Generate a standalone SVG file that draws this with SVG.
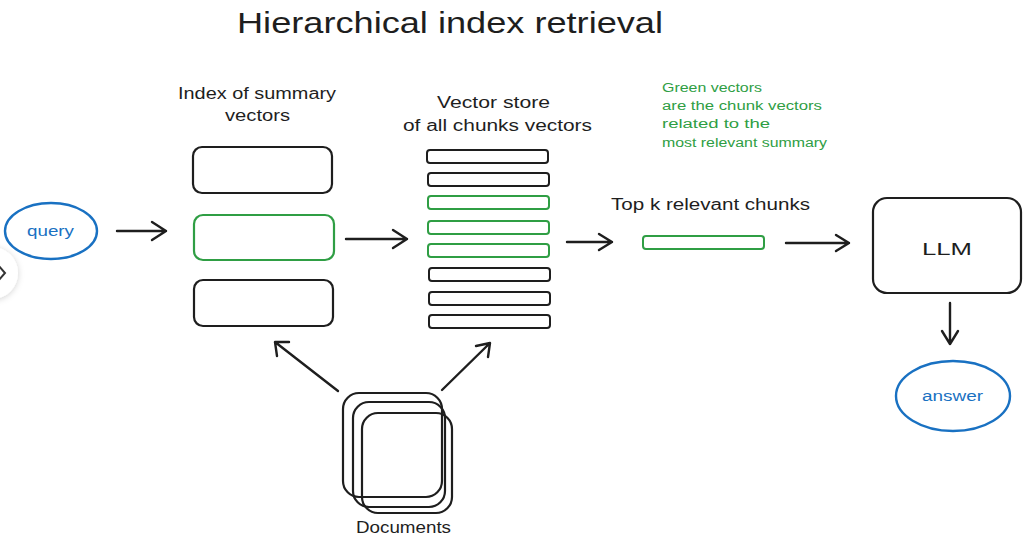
<svg xmlns="http://www.w3.org/2000/svg" width="1024" height="548" viewBox="0 0 1024 548">
<defs>
<style>
text{font-family:"Liberation Sans","DejaVu Sans",sans-serif;fill:#1e1e1e}
.blk{fill:none;stroke:#1e1e1e;stroke-width:2.2}
.grn{fill:none;stroke:#2f9e44;stroke-width:2.2}
.blu{fill:none;stroke:#1971c2;stroke-width:2.4}
.bar{fill:none;stroke:#1e1e1e;stroke-width:2}
.gbar{fill:none;stroke:#2f9e44;stroke-width:2}
.con{fill:none;stroke:#1e1e1e;stroke-width:2.4;stroke-linecap:round;stroke-linejoin:round}
.lbl{font-size:16px}
.gtxt{font-size:12.5px;fill:#2f9e44}
</style>
<filter id="sh" x="-50%" y="-50%" width="200%" height="200%"><feDropShadow dx="0" dy="1" stdDeviation="3" flood-opacity="0.18"/></filter>
</defs>
<rect width="1024" height="548" fill="#ffffff"/>

<text x="237" y="33" font-size="29" textLength="426" lengthAdjust="spacingAndGlyphs">Hierarchical index retrieval</text>

<g id="edge-button">
<circle cx="-8" cy="273" r="26" fill="#ffffff" filter="url(#sh)"/>
<path d="M-1 266 L5 273 L-1 280" fill="none" stroke="#333" stroke-width="2"/>
</g>

<g id="query">
<ellipse cx="51" cy="231" rx="46" ry="28" class="blu"/>
<text x="27" y="236" font-size="14" textLength="47" lengthAdjust="spacingAndGlyphs" style="fill:#1971c2">query</text>
</g>

<g id="summary-index">
<text x="178" y="99" class="lbl" textLength="158" lengthAdjust="spacingAndGlyphs">Index of summary</text>
<text x="225" y="121" class="lbl" textLength="65" lengthAdjust="spacingAndGlyphs">vectors</text>
<rect x="193" y="147" width="139" height="46" rx="9" class="blk"/>
<rect x="194" y="215" width="140" height="45" rx="9" class="grn"/>
<rect x="194" y="280" width="139" height="46" rx="9" class="blk"/>
</g>

<g id="vector-store">
<text x="437" y="108" class="lbl" textLength="113" lengthAdjust="spacingAndGlyphs">Vector store</text>
<text x="403" y="131" class="lbl" textLength="189" lengthAdjust="spacingAndGlyphs">of all chunks vectors</text>
<rect x="427" y="150" width="121" height="13" rx="3" class="bar"/>
<rect x="428" y="173" width="121" height="13" rx="3" class="bar"/>
<rect x="428" y="196" width="121" height="13" rx="3" class="gbar"/>
<rect x="428" y="221" width="121" height="13" rx="3" class="gbar"/>
<rect x="428" y="244" width="121" height="13" rx="3" class="gbar"/>
<rect x="429" y="268" width="121" height="13" rx="3" class="bar"/>
<rect x="429" y="292" width="121" height="13" rx="3" class="bar"/>
<rect x="429" y="315" width="121" height="13" rx="3" class="bar"/>
</g>

<g id="note">
<text x="662" y="92" class="gtxt" textLength="100" lengthAdjust="spacingAndGlyphs">Green vectors</text>
<text x="662" y="110" class="gtxt" textLength="160" lengthAdjust="spacingAndGlyphs">are the chunk vectors</text>
<text x="662" y="128" class="gtxt" textLength="108" lengthAdjust="spacingAndGlyphs">related to the</text>
<text x="662" y="147" class="gtxt" textLength="165" lengthAdjust="spacingAndGlyphs">most relevant summary</text>
</g>

<g id="top-k">
<text x="611" y="210" class="lbl" textLength="199" lengthAdjust="spacingAndGlyphs">Top k relevant chunks</text>
<rect x="643" y="236" width="121" height="13" rx="3" class="gbar"/>
</g>

<g id="llm">
<rect x="873" y="198" width="148" height="95" rx="14" class="blk"/>
<text x="922" y="255" font-size="17" textLength="50" lengthAdjust="spacingAndGlyphs">LLM</text>
</g>

<g id="answer">
<ellipse cx="953" cy="396" rx="57" ry="35" class="blu"/>
<text x="922" y="401" font-size="14" textLength="61" lengthAdjust="spacingAndGlyphs" style="fill:#1971c2">answer</text>
</g>

<g id="documents">
<rect x="343" y="393" width="99" height="104" rx="16" class="blk"/>
<rect x="353" y="402" width="92" height="105" rx="16" class="blk"/>
<rect x="362" y="413" width="90" height="100" rx="16" class="blk"/>
<text x="356" y="533" class="lbl" textLength="95" lengthAdjust="spacingAndGlyphs">Documents</text>
</g>

<g id="connectors">
<path d="M117 231 L166 231 M152 222 L166 231 L152 240" class="con"/>
<path d="M346 239 L407 239 M393 230 L407 239 L393 248" class="con"/>
<path d="M567 242 L612 242 M599 234 L612 242 L599 250" class="con"/>
<path d="M786 243 L849 243 M836 235 L849 243 L836 251" class="con"/>
<path d="M950 303 L950 344 M942 331 L950 344 L958 331" class="con"/>
<path d="M338 391 L275 342 M277 356 L275 342 L289 342" class="con"/>
<path d="M442 390 L490 343 M476 346 L490 343 L488 357" class="con"/>
</g>
</svg>
